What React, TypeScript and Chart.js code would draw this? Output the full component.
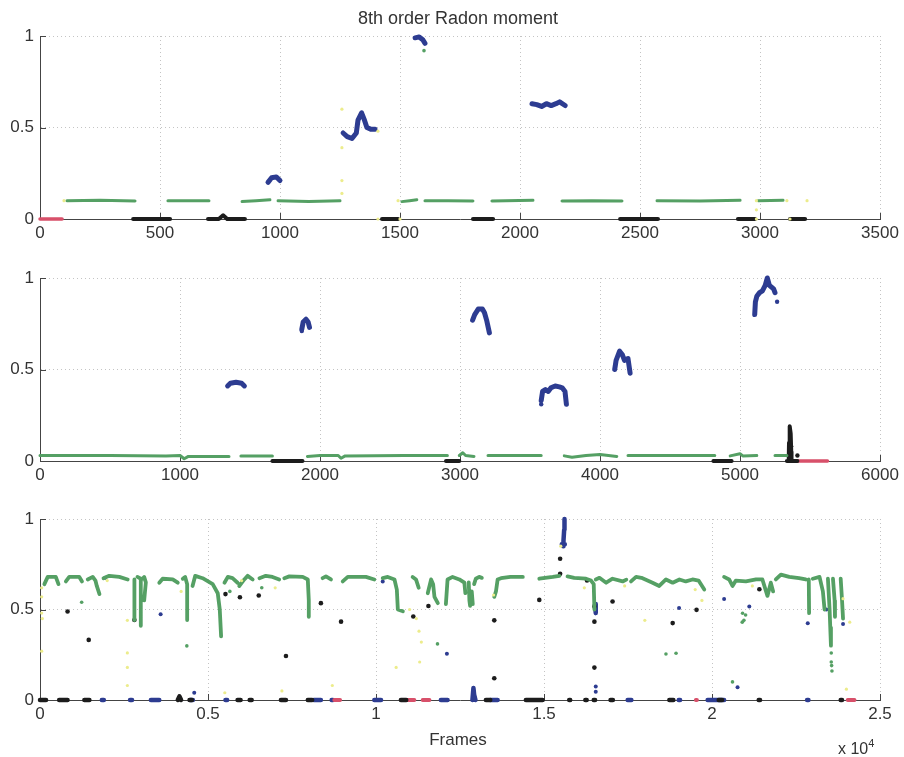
import React, { useEffect, useRef } from "react";
import { Chart, registerables } from "chart.js";
Chart.register(...registerables);

type Pt = [number, number];
type Run = Pt[];

const GREEN = "#55a064";
const BLUE = "#2d3c91";
const BLACK = "#1c1c1c";
const RED = "#d8506a";
const YELLOW = "#ecec8c";

const yTicks = [0, 0.5, 1];

// ---------- Panel 1 (frames 0..3500) ----------
const p1XTicks = [0, 500, 1000, 1500, 2000, 2500, 3000, 3500];
const p1Red: Run[] = [[[0, 0], [92, 0]]];
const p1Green: Run[] = [
  [[112, 0.1], [250, 0.102], [396, 0.098]],
  [[533, 0.1], [704, 0.1]],
  [[842, 0.095], [900, 0.1], [958, 0.105]],
  [[992, 0.1], [1120, 0.095], [1250, 0.1]],
  [[1508, 0.095], [1540, 0.1], [1570, 0.105]],
  [[1604, 0.1], [1700, 0.1], [1804, 0.098]],
  [[1883, 0.098], [2054, 0.102]],
  [[2175, 0.098], [2300, 0.1], [2425, 0.098]],
  [[2571, 0.1], [2750, 0.098], [2917, 0.102]],
  [[2992, 0.1], [3096, 0.102]],
];
const p1Black: Run[] = [
  [[388, 0], [542, 0]],
  [[700, 0], [745, 0], [763, 0.02], [780, 0], [854, 0]],
  [[1425, 0], [1492, 0]],
  [[1804, 0], [1888, 0]],
  [[2417, 0], [2575, 0]],
  [[2908, 0], [2979, 0]],
  [[3125, 0], [3188, 0]],
];
const p1Blue: Run[] = [
  [[950, 0.2], [965, 0.225], [985, 0.23], [1000, 0.21]],
  [[1263, 0.47], [1280, 0.45], [1300, 0.44], [1318, 0.47], [1325, 0.54], [1340, 0.58], [1352, 0.54], [1362, 0.5], [1380, 0.49], [1396, 0.49]],
  [[1563, 0.99], [1580, 0.995], [1595, 0.98], [1604, 0.96]],
  [[2050, 0.63], [2070, 0.625], [2090, 0.615], [2110, 0.63], [2130, 0.62], [2150, 0.63], [2165, 0.64], [2188, 0.62]],
];
const p1GreenPts: Pt[] = [[1600, 0.92]];
const p1YellowPts: Pt[] = [
  [100, 0.1], [1258, 0.6], [1258, 0.39], [1258, 0.21], [1258, 0.14], [1408, 0.48], [1408, 0],
  [1492, 0.1], [1500, 0], [2985, 0.1], [2985, 0.05], [2985, 0], [3112, 0.1], [3125, 0], [3196, 0.1],
];

// ---------- Panel 2 (frames 0..6000) ----------
const p2XTicks = [0, 1000, 2000, 3000, 4000, 5000, 6000];
const p2Green: Run[] = [
  [[0, 0.03], [500, 0.03], [900, 0.028], [1000, 0.03], [1030, 0.012], [1060, 0.025], [1350, 0.025]],
  [[1435, 0.028], [1660, 0.028]],
  [[1910, 0.025], [2000, 0.03], [2130, 0.03], [2150, 0.015], [2180, 0.028], [2600, 0.03], [2910, 0.03]],
  [[2995, 0.03], [3020, 0.045], [3040, 0.03], [3100, 0.025]],
  [[3200, 0.03], [3580, 0.03]],
  [[3745, 0.028], [3800, 0.02], [3900, 0.03], [4000, 0.035], [4120, 0.025]],
  [[4200, 0.03], [4500, 0.03], [4820, 0.03]],
  [[4930, 0.028], [5000, 0.04], [5020, 0.028], [5120, 0.03]],
  [[5250, 0.03], [5335, 0.03]],
];
const p2Black: Run[] = [
  [[1660, 0], [1875, 0]],
  [[2900, 0], [2995, 0]],
  [[4810, 0], [4940, 0]],
  [[5335, 0], [5410, 0]],
  [[5348, 0], [5350, 0.1], [5355, 0.19], [5362, 0.15], [5366, 0.05], [5368, 0]],
];
const p2BlackPts: Pt[] = [[5410, 0.03], [5365, 0.08], [5352, 0.06]];
const p2Red: Run[] = [[[5415, 0], [5625, 0]]];
const p2Blue: Run[] = [
  [[1340, 0.41], [1360, 0.425], [1400, 0.43], [1440, 0.425], [1460, 0.41]],
  [[1870, 0.72], [1880, 0.76], [1900, 0.775], [1915, 0.76], [1925, 0.73]],
  [[3090, 0.77], [3105, 0.8], [3130, 0.83], [3160, 0.83], [3175, 0.81], [3190, 0.77], [3210, 0.7]],
  [[3580, 0.33], [3590, 0.38], [3610, 0.39], [3630, 0.38], [3650, 0.4], [3680, 0.41], [3710, 0.405], [3730, 0.4], [3750, 0.38], [3760, 0.31]],
  [[4105, 0.5], [4115, 0.55], [4140, 0.6], [4160, 0.58], [4175, 0.55], [4200, 0.56], [4215, 0.48]],
  [[5105, 0.8], [5110, 0.87], [5120, 0.9], [5140, 0.92], [5160, 0.93], [5180, 0.96], [5195, 1.0], [5210, 0.96], [5225, 0.95], [5240, 0.94], [5250, 0.92]],
];
const p2BluePts: Pt[] = [[5265, 0.87], [1870, 0.71], [3580, 0.31]];

// ---------- Panel 3 (x 10^4 frames, 0..2.5) ----------
const p3XTicks = [0, 0.5, 1, 1.5, 2, 2.5];
const p3Green: Run[] = [
  [[0.013, 0.64], [0.023, 0.68], [0.047, 0.68], [0.055, 0.64]],
  [[0.077, 0.655], [0.087, 0.68], [0.117, 0.68], [0.125, 0.655]],
  [[0.142, 0.666], [0.157, 0.68], [0.165, 0.66], [0.169, 0.63], [0.177, 0.585]],
  [[0.189, 0.673], [0.206, 0.686], [0.236, 0.68], [0.261, 0.666]],
  [[0.281, 0.666], [0.281, 0.442]],
  [[0.29, 0.68], [0.3, 0.67], [0.3, 0.41]],
  [[0.305, 0.67], [0.31, 0.68], [0.315, 0.65], [0.31, 0.55]],
  [[0.355, 0.648], [0.365, 0.67], [0.395, 0.666], [0.41, 0.648]],
  [[0.425, 0.67], [0.432, 0.68], [0.438, 0.64], [0.438, 0.442]],
  [[0.454, 0.63], [0.462, 0.686], [0.484, 0.673], [0.514, 0.64], [0.529, 0.59], [0.535, 0.5], [0.539, 0.351]],
  [[0.549, 0.648], [0.559, 0.68], [0.573, 0.673], [0.588, 0.648]],
  [[0.593, 0.63], [0.608, 0.666], [0.618, 0.686], [0.633, 0.666]],
  [[0.653, 0.673], [0.672, 0.686], [0.692, 0.68], [0.712, 0.666]],
  [[0.727, 0.673], [0.742, 0.683], [0.782, 0.68], [0.797, 0.666], [0.8, 0.55], [0.8, 0.46]],
  [[0.841, 0.673], [0.851, 0.683], [0.866, 0.666]],
  [[0.901, 0.655], [0.916, 0.68], [0.97, 0.68], [0.995, 0.666]],
  [[1.02, 0.673], [1.035, 0.68], [1.055, 0.666], [1.062, 0.61], [1.065, 0.5], [1.08, 0.49]],
  [[1.109, 0.68], [1.119, 0.666], [1.127, 0.62]],
  [[1.154, 0.59], [1.164, 0.666], [1.17, 0.64], [1.174, 0.57], [1.184, 0.535]],
  [[1.208, 0.53], [1.213, 0.666], [1.228, 0.68], [1.248, 0.666], [1.263, 0.648], [1.266, 0.59]],
  [[1.276, 0.65], [1.278, 0.55], [1.28, 0.52]],
  [[1.285, 0.6], [1.288, 0.53]],
  [[1.292, 0.64], [1.297, 0.67], [1.307, 0.68], [1.315, 0.675]],
  [[1.352, 0.57], [1.357, 0.6], [1.362, 0.666], [1.372, 0.673], [1.4, 0.68], [1.437, 0.68]],
  [[1.486, 0.67], [1.526, 0.68], [1.546, 0.686]],
  [[1.57, 0.683], [1.59, 0.675], [1.625, 0.67], [1.64, 0.66], [1.648, 0.64], [1.65, 0.5]],
  [[1.654, 0.666], [1.665, 0.675], [1.685, 0.648], [1.704, 0.67], [1.734, 0.655], [1.745, 0.665]],
  [[1.759, 0.655], [1.774, 0.68], [1.79, 0.675], [1.823, 0.648], [1.843, 0.63], [1.863, 0.666], [1.883, 0.648], [1.903, 0.666], [1.922, 0.655], [1.942, 0.666], [1.96, 0.66], [1.977, 0.61]],
  [[2.036, 0.68], [2.051, 0.666], [2.061, 0.63], [2.071, 0.66], [2.101, 0.655], [2.131, 0.666], [2.15, 0.666], [2.165, 0.575], [2.175, 0.648], [2.182, 0.6]],
  [[2.19, 0.666], [2.205, 0.693], [2.23, 0.68], [2.259, 0.673], [2.279, 0.666]],
  [[2.288, 0.666], [2.289, 0.48]],
  [[2.3, 0.67], [2.32, 0.68], [2.33, 0.6], [2.335, 0.5]],
  [[2.345, 0.67], [2.35, 0.5], [2.352, 0.4], [2.354, 0.3]],
  [[2.36, 0.67], [2.365, 0.55], [2.366, 0.46]],
  [[2.383, 0.67], [2.387, 0.55], [2.39, 0.45]],
];
const p3GreenPts: Pt[] = [
  [0.124, 0.54], [0.437, 0.299], [1.183, 0.31], [1.863, 0.254], [1.893, 0.258], [2.061, 0.1],
  [2.091, 0.479], [2.095, 0.44], [2.1, 0.47], [2.09, 0.43], [2.355, 0.26], [2.355, 0.21],
  [2.356, 0.19], [2.357, 0.16], [0.565, 0.6], [0.66, 0.62],
];
const p3Black: Run[] = [
  [[0, 0], [0.018, 0]], [[0.057, 0], [0.082, 0]], [[0.132, 0], [0.147, 0]],
  [[0.41, 0], [0.415, 0.02], [0.42, 0]], [[0.445, 0], [0.452, 0]], [[0.588, 0], [0.597, 0]],
  [[0.624, 0], [0.63, 0]], [[0.717, 0], [0.732, 0]], [[0.797, 0], [0.81, 0]],
  [[1.074, 0], [1.09, 0]], [[1.327, 0], [1.34, 0]], [[1.446, 0], [1.496, 0]],
  [[1.575, 0], [1.578, 0]], [[1.623, 0], [1.627, 0]], [[1.648, 0], [1.652, 0]],
  [[1.698, 0], [1.705, 0]], [[1.873, 0], [1.885, 0]], [[2.02, 0], [2.03, 0]],
  [[2.139, 0], [2.143, 0]], [[2.383, 0], [2.387, 0]],
];
const p3BlackPts: Pt[] = [
  [0.082, 0.489], [0.145, 0.332], [0.281, 0.442], [0.552, 0.585], [0.595, 0.568], [0.651, 0.577],
  [0.732, 0.243], [0.836, 0.535], [0.896, 0.433], [1.111, 0.461], [1.156, 0.519], [1.352, 0.44],
  [1.352, 0.12], [1.486, 0.553], [1.548, 0.697], [1.548, 0.78], [1.628, 0.66], [1.65, 0.517],
  [1.65, 0.433], [1.65, 0.179], [1.704, 0.544], [1.883, 0.425], [1.954, 0.498], [2.141, 0.612],
];
const p3Blue: Run[] = [
  [[0.184, 0], [0.19, 0]], [[0.268, 0], [0.274, 0]], [[0.33, 0], [0.355, 0]], [[0.447, 0], [0.455, 0]],
  [[0.552, 0], [0.557, 0]], [[0.815, 0], [0.836, 0]], [[0.868, 0], [0.872, 0]], [[0.995, 0], [1.015, 0]],
  [[1.193, 0], [1.213, 0]], [[1.34, 0], [1.362, 0]], [[1.749, 0], [1.76, 0]], [[1.901, 0], [1.905, 0]],
  [[1.987, 0], [2.036, 0]], [[2.283, 0], [2.287, 0]],
  [[1.287, 0], [1.29, 0.066], [1.292, 0.03], [1.296, 0]],
  [[1.557, 0.85], [1.558, 0.88], [1.56, 0.94], [1.561, 1.0]],
  [[1.553, 0.86], [1.562, 0.86]],
  [[1.652, 0.53], [1.654, 0.48]],
];
const p3BluePts: Pt[] = [
  [0.194, 0.675], [0.359, 0.474], [0.459, 0.04], [1.02, 0.655], [1.211, 0.255], [1.654, 0.074],
  [1.654, 0.046], [1.902, 0.508], [2.036, 0.558], [2.111, 0.517], [2.076, 0.07], [2.285, 0.424],
  [2.39, 0.42], [2.34, 0.5],
];
const p3Red: Run[] = [
  [[0.876, 0], [0.893, 0]], [[1.09, 0], [1.114, 0]], [[1.139, 0], [1.159, 0]],
  [[1.952, 0], [1.955, 0]], [[2.404, 0], [2.424, 0]],
];
const p3YellowPts: Pt[] = [
  [0.005, 0.62], [0.005, 0.57], [0.005, 0.48], [0.007, 0.45], [0.005, 0.27], [0.26, 0.26],
  [0.26, 0.18], [0.26, 0.08], [0.26, 0.44], [0.42, 0.6], [0.55, 0.04], [0.72, 0.05], [0.87, 0.08],
  [1.06, 0.18], [1.1, 0.5], [1.13, 0.21], [1.135, 0.32], [1.12, 0.45], [1.128, 0.38], [1.55, 0.85],
  [1.62, 0.62], [1.74, 0.63], [1.95, 0.61], [1.97, 0.55], [2.12, 0.63], [2.41, 0.43], [2.4, 0.06],
  [2.39, 0.56], [1.35, 0.58], [0.2, 0.66], [0.6, 0.66], [0.7, 0.62], [1.8, 0.44],
];

// ---------- helpers ----------
function runsData(runs: Run[]) {
  const out: { x: number | null; y: number | null }[] = [];
  runs.forEach((r, i) => {
    if (i > 0) out.push({ x: null, y: null });
    r.forEach(([x, y]) => out.push({ x, y }));
  });
  return out;
}
function runDs(runs: Run[], color: string, width: number) {
  return {
    data: runsData(runs),
    showLine: true,
    borderColor: color,
    backgroundColor: color,
    borderWidth: width,
    borderCapStyle: "round",
    borderJoinStyle: "round",
    pointRadius: 0,
    spanGaps: false,
    tension: 0,
    clip: false,
  };
}
function ptDs(pts: Pt[], color: string, r: number) {
  return {
    data: pts.map(([x, y]) => ({ x, y })),
    showLine: false,
    backgroundColor: color,
    borderWidth: 0,
    pointRadius: r,
    clip: false,
  };
}

const inwardTicks = {
  id: "inwardTicks",
  beforeDatasetsDraw(chart: any) {
    const { ctx, chartArea: a, scales } = chart;
    const x = scales.x;
    const y = scales.y;
    ctx.save();
    ctx.strokeStyle = "#444";
    ctx.lineWidth = 1;
    x.ticks.forEach((t: any) => {
      const px = Math.round(x.getPixelForValue(t.value)) + 0.5;
      ctx.beginPath();
      ctx.moveTo(px, a.bottom);
      ctx.lineTo(px, a.bottom - 6);
      ctx.stroke();
    });
    y.ticks.forEach((t: any) => {
      const py = Math.round(y.getPixelForValue(t.value)) + 0.5;
      ctx.beginPath();
      ctx.moveTo(a.left, py);
      ctx.lineTo(a.left + 6, py);
      ctx.stroke();
    });
    ctx.restore();
  },
};

const fontFam = "'Liberation Sans', Arial, sans-serif";

function makeConfig(datasets: any[], xTicks: number[], xMax: number, padTop: number, xAxisH: number) {
  return {
    type: "scatter",
    data: { datasets },
    plugins: [inwardTicks],
    options: {
      animation: false,
      responsive: false,
      events: [],
      layout: { padding: { top: padTop, right: 24, left: 0, bottom: 0 } },
      plugins: { legend: { display: false }, tooltip: { enabled: false }, title: { display: false } },
      scales: {
        x: {
          type: "linear",
          min: 0,
          max: xMax,
          afterBuildTicks: (s: any) => {
            s.ticks = xTicks.map((v) => ({ value: v }));
          },
          afterFit: (s: any) => {
            s.height = xAxisH;
          },
          grid: { color: "#c4c4c4", lineWidth: 1, drawTicks: false },
          border: { display: true, color: "#444", width: 1, dash: [1, 3] },
          ticks: {
            padding: 4,
            color: "#333",
            font: { size: 17, family: fontFam },
            maxRotation: 0,
            autoSkip: false,
            callback: (v: any) => String(Number(v)),
          },
        },
        y: {
          type: "linear",
          min: 0,
          max: 1,
          afterBuildTicks: (s: any) => {
            s.ticks = yTicks.map((v) => ({ value: v }));
          },
          afterFit: (s: any) => {
            s.width = 40;
          },
          grid: { color: "#c4c4c4", lineWidth: 1, drawTicks: false },
          border: { display: true, color: "#444", width: 1, dash: [1, 3] },
          ticks: {
            padding: 6,
            color: "#333",
            font: { size: 17, family: fontFam },
            callback: (v: any) => String(Number(v)),
          },
        },
      },
    },
  };
}

const panel1 = () => [
  ptDs(p1YellowPts, YELLOW, 1.6),
  runDs(p1Green, GREEN, 3),
  ptDs(p1GreenPts, GREEN, 1.8),
  runDs(p1Black, BLACK, 4),
  runDs(p1Red, RED, 3.5),
  runDs(p1Blue, BLUE, 5),
];
const panel2 = () => [
  runDs(p2Green, GREEN, 3),
  runDs(p2Black, BLACK, 4),
  ptDs(p2BlackPts, BLACK, 2.2),
  runDs(p2Red, RED, 3.5),
  runDs(p2Blue, BLUE, 5),
  ptDs(p2BluePts, BLUE, 2.2),
];
const panel3 = () => [
  ptDs(p3YellowPts, YELLOW, 1.6),
  runDs(p3Green, GREEN, 3.8),
  ptDs(p3GreenPts, GREEN, 1.8),
  runDs(p3Black, BLACK, 4.5),
  ptDs(p3BlackPts, BLACK, 2.3),
  runDs(p3Red, RED, 4),
  runDs(p3Blue, BLUE, 4.5),
  ptDs(p3BluePts, BLUE, 2),
];

export default function App() {
  const c1 = useRef<HTMLCanvasElement>(null);
  const c2 = useRef<HTMLCanvasElement>(null);
  const c3 = useRef<HTMLCanvasElement>(null);

  useEffect(() => {
    const charts: Chart[] = [];
    if (c1.current) charts.push(new Chart(c1.current, makeConfig(panel1(), p1XTicks, 3500, 36, 26) as any));
    if (c2.current) charts.push(new Chart(c2.current, makeConfig(panel2(), p2XTicks, 6000, 33, 24) as any));
    if (c3.current) charts.push(new Chart(c3.current, makeConfig(panel3(), p3XTicks, 2.5, 34, 57) as any));
    return () => charts.forEach((c) => c.destroy());
  }, []);

  return (
    <div style={{ position: "absolute", left: 0, top: 0, width: 904, height: 757, background: "#fff", fontFamily: fontFam, color: "#333" }}>
      <canvas ref={c1} width={904} height={245} style={{ position: "absolute", left: 0, top: 0, display: "block" }} />
      <canvas ref={c2} width={904} height={240} style={{ position: "absolute", left: 0, top: 245, display: "block" }} />
      <canvas ref={c3} width={904} height={272} style={{ position: "absolute", left: 0, top: 485, display: "block" }} />
      <div style={{ position: "absolute", left: 0, width: 916, top: 7, textAlign: "center", fontSize: 18, lineHeight: "22px" }}>8th order Radon moment</div>
      <div style={{ position: "absolute", left: 0, width: 916, top: 730, textAlign: "center", fontSize: 17, lineHeight: "20px" }}>Frames</div>
      <div style={{ position: "absolute", left: 838, top: 739, fontSize: 16, lineHeight: "20px", whiteSpace: "nowrap" }}>
        x 10<sup style={{ fontSize: 11, verticalAlign: "7px", lineHeight: 0 }}>4</sup>
      </div>
    </div>
  );
}
